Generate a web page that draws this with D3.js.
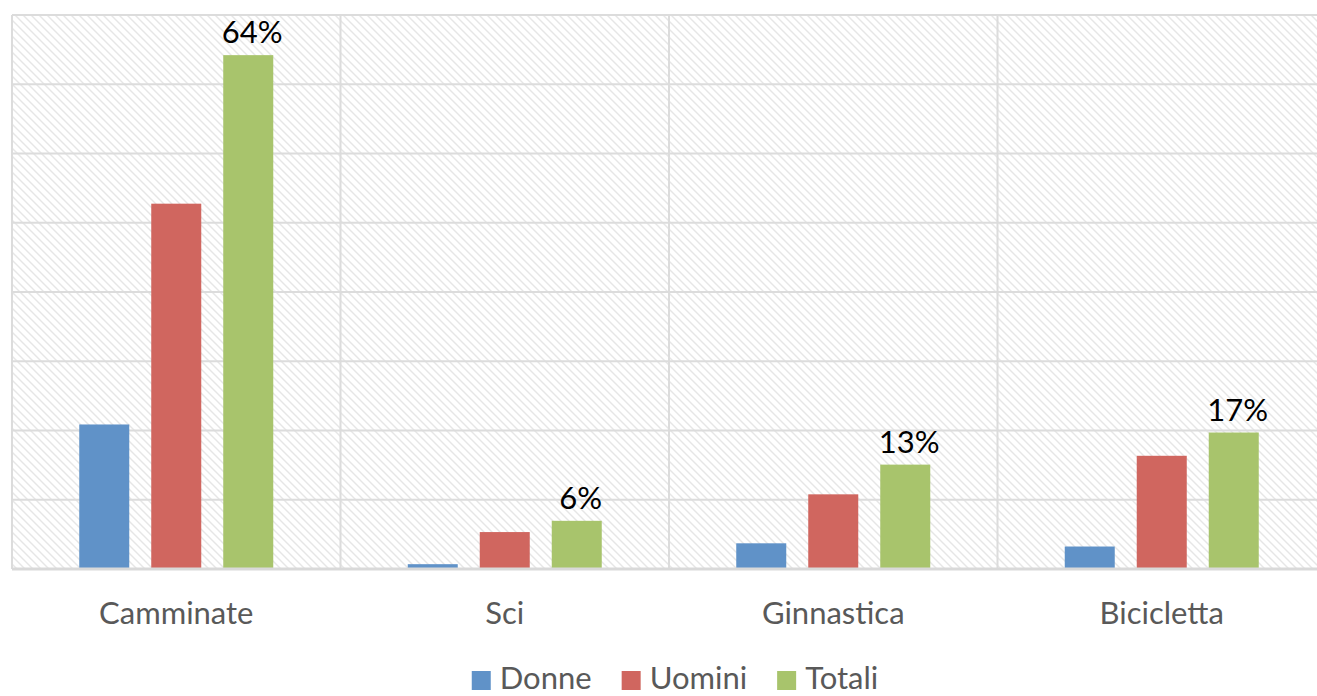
<!DOCTYPE html>
<html>
<head>
<meta charset="utf-8">
<script src="https://cdn.jsdelivr.net/npm/d3@7"></script>
<style>
  html, body { margin: 0; padding: 0; background: #fff; }
  svg { display: block; }
  text { font-family: Lato, "Open Sans", sans-serif; }
</style>
</head>
<body>
<svg id="chart" width="1317" height="696"></svg>
<script>
// Attività praticate: quota per categoria e per gruppo
const categories = ["Camminate", "Sci", "Ginnastica", "Bicicletta"];
const seriesNames = ["Donne", "Uomini", "Totali"];
const donne  = [0.18, 0.006, 0.032, 0.028];
const uomini = [0.455, 0.046, 0.093, 0.141];
const totali = [0.64, 0.06, 0.13, 0.17];
const labelledSeries = "Totali";

const seriesValues = { Donne: donne, Uomini: uomini, Totali: totali };
const colors = { Donne: "#6092C8", Uomini: "#D0665F", Totali: "#A8C46C" };

const plot = { left: 12, right: 1326, top: 15, bottom: 569 };
const yMax = 0.69;
const gridCount = 8;
const fontSize = 31;

const svg = d3.select("#chart");

// diagonal hatch fill for the plot background
const defs = svg.append("defs");
const pat = defs.append("pattern")
  .attr("id", "hatch")
  .attr("patternUnits", "userSpaceOnUse")
  .attr("width", 8).attr("height", 8);
pat.append("rect").attr("width", 8).attr("height", 8).attr("fill", "#fff");
pat.append("path")
  .attr("d", "M-2,-2 L10,10 M-2,6 L2,10 M6,-2 L10,2")
  .attr("stroke", "#e6e6e6")
  .attr("stroke-width", 1.4);

svg.append("rect")
  .attr("x", plot.left).attr("y", plot.top)
  .attr("width", plot.right - plot.left)
  .attr("height", plot.bottom - plot.top)
  .attr("fill", "url(#hatch)");

const x0 = d3.scaleBand().domain(categories).range([plot.left, plot.right]).padding(0);
const y = d3.scaleLinear().domain([0, yMax]).range([plot.bottom, plot.top]);

// horizontal gridlines
const gridVals = d3.range(gridCount + 1).map(i => yMax * i / gridCount);
svg.append("g").selectAll("line").data(gridVals).join("line")
  .attr("x1", plot.left).attr("x2", plot.right)
  .attr("y1", d => y(d)).attr("y2", d => y(d))
  .attr("stroke", "#dcdcdc").attr("stroke-width", 2);

// vertical lines between categories
svg.append("g").selectAll("line").data(categories).join("line")
  .attr("x1", d => x0(d)).attr("x2", d => x0(d))
  .attr("y1", plot.top).attr("y2", plot.bottom)
  .attr("stroke", "#dcdcdc").attr("stroke-width", 2);

// grouped bars
const groupWidth = 194;
const x1 = d3.scaleBand().domain(seriesNames)
  .range([-groupWidth / 2, groupWidth / 2])
  .paddingInner(22 / 72).paddingOuter(0);

const rows = [];
categories.forEach((c, i) => {
  seriesNames.forEach(s => rows.push({ cat: c, series: s, value: seriesValues[s][i] }));
});

const cx = c => x0(c) + x0.bandwidth() / 2;

svg.append("g").selectAll("rect").data(rows).join("rect")
  .attr("x", d => cx(d.cat) + x1(d.series))
  .attr("width", x1.bandwidth())
  .attr("y", d => y(d.value))
  .attr("height", d => y(0) - y(d.value))
  .attr("fill", d => colors[d.series]);

// baseline
svg.append("line")
  .attr("x1", plot.left).attr("x2", plot.right)
  .attr("y1", y(0)).attr("y2", y(0))
  .attr("stroke", "#d9d9d9").attr("stroke-width", 3);

// value labels on totals
const fmt = d3.format(".0%");
svg.append("g").selectAll("text")
  .data(rows.filter(d => d.series === labelledSeries)).join("text")
  .attr("x", d => cx(d.cat) + x1(d.series) + x1.bandwidth() / 2 + 4)
  .attr("y", d => y(d.value) - 12)
  .attr("text-anchor", "middle")
  .attr("font-size", fontSize)
  .attr("fill", "#000")
  .text(d => fmt(d.value));

// category axis labels
svg.append("g").selectAll("text").data(categories).join("text")
  .attr("x", d => cx(d))
  .attr("y", 624)
  .attr("text-anchor", "middle")
  .attr("font-size", fontSize)
  .attr("fill", "#595959")
  .text(d => d);

// legend
const legend = svg.append("g");
const items = legend.selectAll("g").data(seriesNames).join("g");
items.append("rect").attr("width", 19).attr("height", 19).attr("y", -18)
  .attr("fill", d => colors[d]);
items.append("text").attr("x", 28).attr("y", 0)
  .attr("font-size", fontSize).attr("fill", "#595959").text(d => d);
const widths = [];
items.each(function () {
  const tw = d3.select(this).select("text").node().getComputedTextLength();
  widths.push(28 + tw);
});
const gap = 30;
const total = d3.sum(widths) + gap * (widths.length - 1);
const start = 675 - total / 2;
let offset = 0;
items.attr("transform", (d, i) => {
  const t = `translate(${start + offset},689)`;
  offset += widths[i] + gap;
  return t;
});
</script>
</body>
</html>
